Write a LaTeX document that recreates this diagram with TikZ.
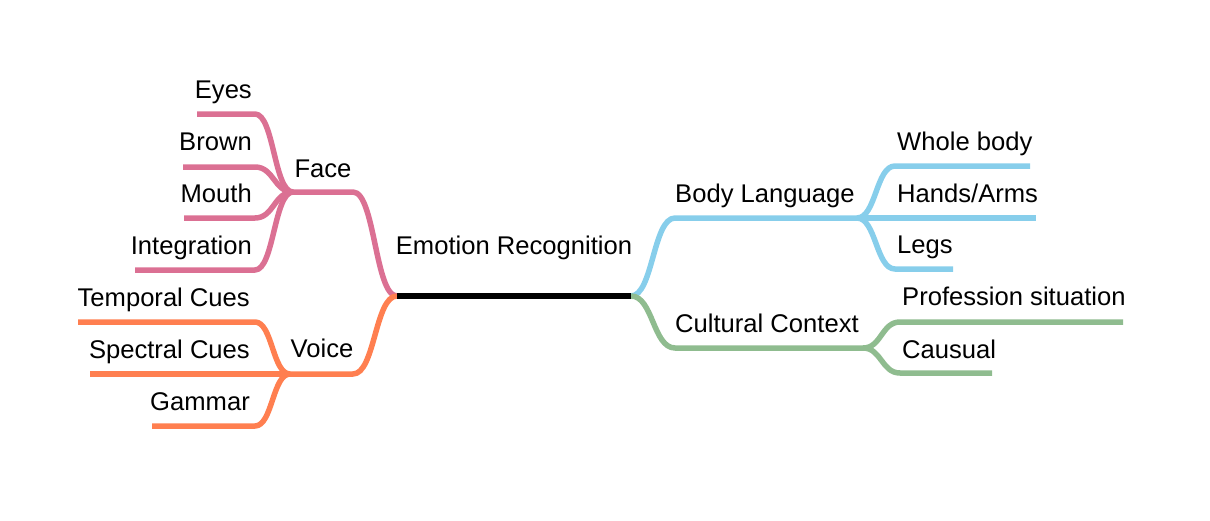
\documentclass[tikz,border=0pt]{standalone}
\usepackage{fontspec}
\setmainfont{Liberation Sans}
\usetikzlibrary{calc}
\definecolor{cface}{HTML}{DB7093}
\definecolor{cvoice}{HTML}{FF7F50}
\definecolor{cbody}{HTML}{87CEEB}
\definecolor{cculture}{HTML}{8FBC8F}
\newcommand\mmbranch[4]{\draw[br,#1] let \p1=(#2), \p2=(#3) in (\p1) .. controls ({0.5*\x1+0.5*\x2},\y1) and ({0.5*\x1+0.5*\x2},\y2) .. (\p2) -- (#4);}
\begin{document}
\begin{tikzpicture}[x=1pt,y=-1pt,
  lbl/.style={font=\fontsize{25.6}{30}\selectfont, inner sep=0pt, text=black},
  br/.style={line width=5.5pt, line join=round, line cap=butt},
  lft/.style={lbl, anchor=base east},
  rgt/.style={lbl, anchor=base west},
  mid/.style={lbl, anchor=base}]
\useasboundingbox (0,0) rectangle (1210,520);
% root
\coordinate (rootS) at (397,296);
\coordinate (rootE) at (631,296);
\node[mid] (root) at (514,254) {Emotion Recognition};
% Face
\coordinate (faceS) at (293,192); \coordinate (faceE) at (353,192);
\node[mid] (face) at (323,177) {Face};
\coordinate (eyesS) at (197,114); \coordinate (eyesE) at (255,114);
\node[lft] (eyes) at (252,98) {Eyes};
\coordinate (brownS) at (183,167); \coordinate (brownE) at (255,167);
\node[lft] (brown) at (252,150) {Brown};
\coordinate (mouthS) at (184,218); \coordinate (mouthE) at (255,218);
\node[lft] (mouth) at (252,202) {Mouth};
\coordinate (integS) at (135,270); \coordinate (integE) at (255,270);
\node[lft] (integ) at (252,254) {Integration};
% Voice
\coordinate (voiceS) at (290,374); \coordinate (voiceE) at (353,374);
\node[mid] (voice) at (322,357) {Voice};
\coordinate (tempS) at (78,322); \coordinate (tempE) at (255,322);
\node[lft] (temp) at (250,306) {Temporal Cues};
\coordinate (specS) at (90,374); \coordinate (specE) at (255,374);
\node[lft] (spec) at (250,358) {Spectral Cues};
\coordinate (gamS) at (152,426); \coordinate (gamE) at (255,426);
\node[lft] (gam) at (250,410) {Gammar};
% Body Language
\coordinate (bodyS) at (675,218); \coordinate (bodyE) at (857,218);
\node[rgt] (body) at (675,202) {Body Language};
\coordinate (wholeS) at (895,166); \coordinate (wholeE) at (1030,166);
\node[rgt] (whole) at (897,150) {Whole body};
\coordinate (handsS) at (895,218); \coordinate (handsE) at (1036,218);
\node[rgt] (hands) at (897,202) {Hands/Arms};
\coordinate (legsS) at (895,269); \coordinate (legsE) at (953,269);
\node[rgt] (legs) at (897,253) {Legs};
% Cultural Context
\coordinate (cultS) at (675,348); \coordinate (cultE) at (863,348);
\node[rgt] (cult) at (675,332) {Cultural Context};
\coordinate (profS) at (900,322); \coordinate (profE) at (1123,322);
\node[rgt] (prof) at (902,305) {Profession situation};
\coordinate (causS) at (900,373); \coordinate (causE) at (992,373);
\node[rgt] (caus) at (902,358) {Causual};
% links
\mmbranch{cface}{rootS}{faceE}{faceS}
\mmbranch{cface}{faceS}{eyesE}{eyesS}
\mmbranch{cface}{faceS}{brownE}{brownS}
\mmbranch{cface}{faceS}{mouthE}{mouthS}
\mmbranch{cface}{faceS}{integE}{integS}
\mmbranch{cvoice}{rootS}{voiceE}{voiceS}
\mmbranch{cvoice}{voiceS}{tempE}{tempS}
\mmbranch{cvoice}{voiceS}{specE}{specS}
\mmbranch{cvoice}{voiceS}{gamE}{gamS}
\mmbranch{cbody}{rootE}{bodyS}{bodyE}
\mmbranch{cbody}{bodyE}{wholeS}{wholeE}
\mmbranch{cbody}{bodyE}{handsS}{handsE}
\mmbranch{cbody}{bodyE}{legsS}{legsE}
\mmbranch{cculture}{rootE}{cultS}{cultE}
\mmbranch{cculture}{cultE}{profS}{profE}
\mmbranch{cculture}{cultE}{causS}{causE}
\draw[br,black] (rootS) -- (rootE);
\end{tikzpicture}
\end{document}
